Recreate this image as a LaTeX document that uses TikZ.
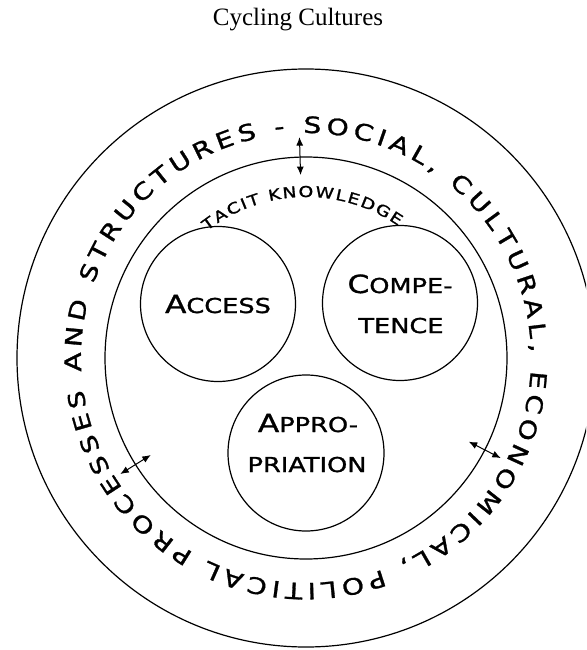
\documentclass[tikz,border=0pt]{standalone}
\usepackage{fontspec}
\setmainfont{Liberation Serif}
\newfontfamily\cpfont[FakeStretch=1.25, FakeBold=1.3]{DejaVu Sans}
\usetikzlibrary{arrows.meta,decorations.text}
\newcommand\BigL[1]{{\fontsize{25}{25}\selectfont #1}}
\newcommand\SmL[1]{{\fontsize{20.5}{20.5}\selectfont #1}}
\newcommand\ringfont{\cpfont\fontsize{22.5}{22.5}\selectfont}
\newcommand\tacitfont{\cpfont\fontsize{15}{15}\selectfont}
\begin{document}
\begin{tikzpicture}[x=1pt,y=1pt,
  ringc/.style={draw, circle, line width=1.2pt, inner sep=0pt},
  smallc/.style={draw, circle, line width=1.2pt, inner sep=0pt, minimum size=155pt},
  lab/.style={anchor=base, inner sep=0pt, font=\cpfont},
  dbl/.style={{Latex[length=8.5pt,width=7pt]}-{Latex[length=8.5pt,width=7pt]}, line width=1pt},
]
\useasboundingbox (0,0) rectangle (586,-650);
\clip (0,0) rectangle (586,-650);
\node[font=\fontsize{25}{25}\selectfont, anchor=base, inner sep=0pt] (title) at (298,-26) {Cycling Cultures};

\node[ringc, minimum size=578pt] (outer) at (306,-358) {};
\node[ringc, minimum size=402pt] (inner) at (306,-358) {};

\node[smallc] (access) at (218,-304) {};
\node[smallc] (comp) at (400,-303) {};
\node[smallc, minimum size=156pt] (appr) at (306,-453) {};

\node[lab] (accessT) at (218,-313) {\BigL{A}\SmL{CCESS}};
\node[lab] (compT1) at (400,-293) {\BigL{C}\SmL{OMPE-}};
\node[lab] (compT2) at (401,-333) {\SmL{TENCE}};
\node[lab] (apprT1) at (308,-432) {\BigL{A}\SmL{PPRO-}};
\node[lab] (apprT2) at (307,-472) {\SmL{PRIATION}};

\path[decorate, decoration={text along path, text align={fit to path},
  text={|\ringfont|PROCESSES AND STRUCTURES - SOCIAL, CULTURAL, ECONOMICAL, POLITICAL}}]
  ([shift={(240:225pt)}]outer.center) arc[start angle=240, end angle=-115.8, radius=225pt];

\path[decorate, decoration={text along path, text align={fit to path},
  text={|\tacitfont|TACIT KNOWLEDGE}}]
  ([shift={(128:161pt)}]inner.center) arc[start angle=128, end angle=55, radius=161pt];

\coordinate (topA) at ([shift={(91.7:221pt)}]inner.center);
\coordinate (topB) at ([shift={(91.7:183pt)}]inner.center);
\coordinate (leftA) at ([shift={(212:219pt)}]inner.center);
\coordinate (leftB) at ([shift={(212:183pt)}]inner.center);
\coordinate (rightA) at ([shift={(-27.2:219pt)}]inner.center);
\coordinate (rightB) at ([shift={(-27.2:183pt)}]inner.center);
\draw[dbl] (topA) -- (topB);
\draw[dbl] (leftA) -- (leftB);
\draw[dbl] (rightA) -- (rightB);
\end{tikzpicture}
\end{document}
